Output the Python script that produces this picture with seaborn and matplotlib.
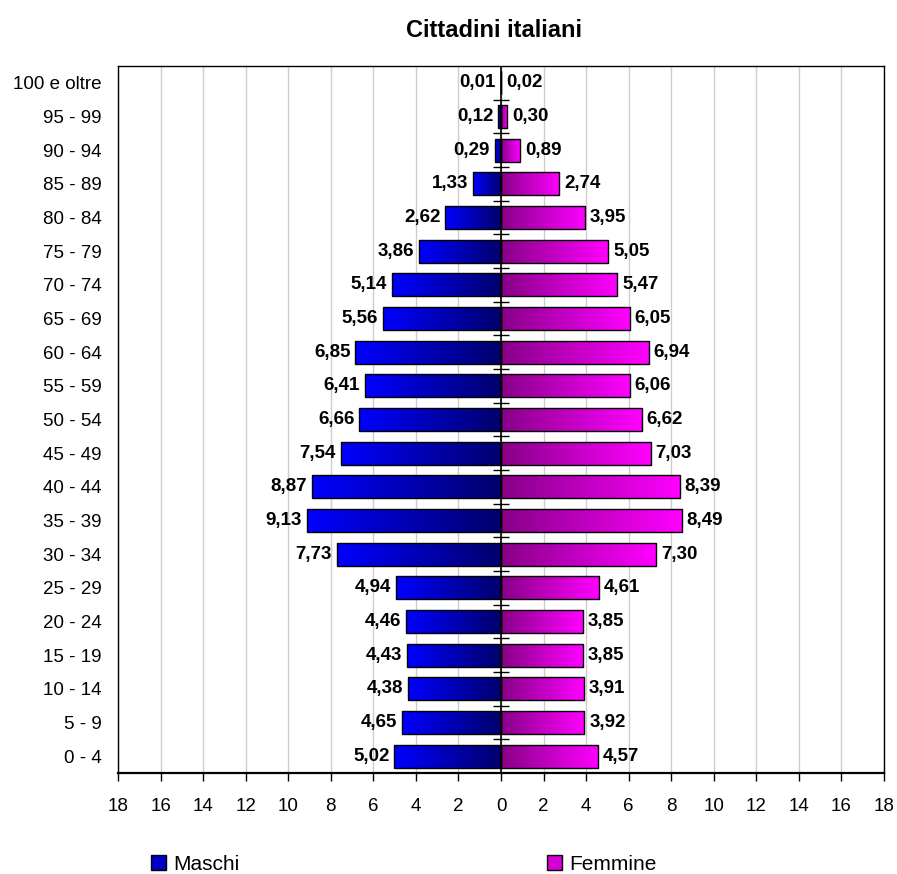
import numpy as np
import pandas as pd
import matplotlib
matplotlib.use("Agg")
import matplotlib.pyplot as plt
import seaborn as sns
from matplotlib.colors import LinearSegmentedColormap
from matplotlib.patches import Patch

# dati: percentuali per classe di eta
eta = ["0 - 4", "5 - 9", "10 - 14", "15 - 19", "20 - 24", "25 - 29", "30 - 34",
       "35 - 39", "40 - 44", "45 - 49", "50 - 54", "55 - 59", "60 - 64", "65 - 69",
       "70 - 74", "75 - 79", "80 - 84", "85 - 89", "90 - 94", "95 - 99", "100 e oltre"]
maschi = [5.02, 4.65, 4.38, 4.43, 4.46, 4.94, 7.73, 9.13, 8.87, 7.54, 6.66,
          6.41, 6.85, 5.56, 5.14, 3.86, 2.62, 1.33, 0.29, 0.12, 0.01]
femmine = [4.57, 3.92, 3.91, 3.85, 3.85, 4.61, 7.30, 8.49, 8.39, 7.03, 6.62,
           6.06, 6.94, 6.05, 5.47, 5.05, 3.95, 2.74, 0.89, 0.30, 0.02]
xticks = list(range(-18, 19, 2))

sns.set_style("white")
plt.rcParams['font.family'] = ['Liberation Sans', 'DejaVu Sans']
plt.rcParams['text.color'] = 'black'
plt.rcParams['xtick.color'] = 'black'
plt.rcParams['ytick.color'] = 'black'
plt.rcParams['axes.labelcolor'] = 'black'

df = pd.DataFrame({
    "eta": eta * 2,
    "valore": [-v for v in maschi] + femmine,
    "sesso": ["Maschi"] * len(eta) + ["Femmine"] * len(eta),
})
ordine = eta[::-1]

fig = plt.figure(figsize=(8.97, 8.74), dpi=100)
ax = fig.add_axes([0.1316, 0.1156, 0.8539, 0.8089])

# linee griglia verticali
for t in xticks:
    ax.axvline(t, color="#cccccc", lw=1, zorder=0)

sns.barplot(data=df, x="valore", y="eta", hue="sesso", order=ordine,
            hue_order=["Maschi", "Femmine"], orient="h", dodge=False,
            width=0.68, palette=["#0000c0", "#e000e0"], legend=False,
            edgecolor="black", linewidth=1.0, ax=ax, zorder=2)

# sfumature dentro le barre
cm_m = LinearSegmentedColormap.from_list("m", [(0, 0, 1), (0, 0, 0.42)])
cm_f = LinearSegmentedColormap.from_list("f", [(0.53, 0, 0.53), (1, 0, 1)])
grad = np.linspace(0, 1, 256).reshape(1, -1)

for p in list(ax.patches):
    x0, y0 = p.get_x(), p.get_y()
    w, h = p.get_width(), p.get_height()
    if w == 0:
        continue
    left, right = min(x0, x0 + w), max(x0, x0 + w)
    cmap = cm_m if left < 0 else cm_f
    im = ax.imshow(grad, cmap=cmap, aspect="auto", extent=(left, right, y0 + h, y0),
                   zorder=1.9, interpolation="bilinear")
    im.set_clip_path(p)
    p.set_facecolor("none")

# etichette valori
for i, lab in enumerate(ordine):
    k = eta.index(lab)
    m, f = maschi[k], femmine[k]
    ax.annotate(f"{m:.2f}".replace(".", ","), (-m, i), xytext=(-3.5, 0),
                textcoords="offset points", ha="right", va="center",
                fontsize=13.5, fontweight="bold")
    ax.annotate(f"{f:.2f}".replace(".", ","), (f, i), xytext=(3.5, 0),
                textcoords="offset points", ha="left", va="center",
                fontsize=13.5, fontweight="bold")

# asse centrale con tacche tra le classi
ax.axvline(0, color="black", lw=1.2, zorder=3)
confini = np.arange(len(eta) - 1) + 0.5
ax.plot([0] * len(confini), confini, ls="none", marker="_", ms=11,
        mew=1, color="black", zorder=3)

ax.set_xlim(-18, 18)
ax.set_ylim(len(eta) - 0.5, -0.5)
ax.set_xticks(xticks)
ax.set_xticklabels([str(abs(t)) for t in xticks])
ax.tick_params(axis="x", direction="out", length=6, width=1, pad=12,
               labelsize=13.5, bottom=True, color="black")
ax.tick_params(axis="y", length=0, pad=12, labelsize=13.5)
ax.set_xlabel("")
ax.set_ylabel("")
for s in ax.spines.values():
    s.set_visible(True)
    s.set_color("black")
    s.set_linewidth(1)
ax.spines["bottom"].set_linewidth(1.6)

fig.text(0.5507, 0.965, "Cittadini italiani", ha="center", va="center",
         fontsize=17, fontweight="bold")

handles = [Patch(facecolor="#0000c8", edgecolor="black", label="Maschi"),
           Patch(facecolor="#d400d4", edgecolor="black", label="Femmine")]
fig.legend(handles=handles, loc="center left", bbox_to_anchor=(0.1683, 0.011),
           ncol=2, frameon=False, fontsize=15, handlelength=0.72, handleheight=0.72,
           handletextpad=0.33, columnspacing=14.8, borderaxespad=0, borderpad=0)

fig.savefig("out.png", dpi=100)
